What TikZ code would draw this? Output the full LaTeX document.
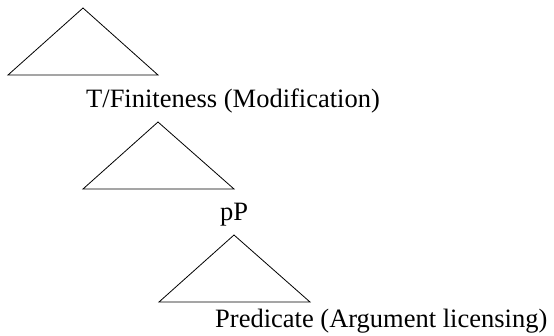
\documentclass[tikz,border=0pt]{standalone}
\usepackage{fontspec}
\setmainfont{Liberation Serif}
\begin{document}
\begin{tikzpicture}[x=1pt,y=-1pt,
  roof/.style={draw=black,line width=0.8pt,line join=miter},
  lbl/.style={anchor=base west,inner sep=0pt,font=\fontsize{26.5}{30}\selectfont}]
\useasboundingbox (0,0) rectangle (554,335);
% triangle 1
\coordinate (a1) at (83,8);
\coordinate (l1) at (8,75);
\coordinate (r1) at (158,75);
\draw[roof] (a1) -- (l1) -- (r1) -- cycle;
\node[lbl] (t1) at (86,107) {T/Finiteness (Modification)};
% triangle 2
\coordinate (a2) at (158,122);
\coordinate (l2) at (83,189);
\coordinate (r2) at (234,189);
\draw[roof] (a2) -- (l2) -- (r2) -- cycle;
\node[lbl] (t2) at (220,220) {pP};
% triangle 3
\coordinate (a3) at (234,235);
\coordinate (l3) at (159,302);
\coordinate (r3) at (310,302);
\draw[roof] (a3) -- (l3) -- (r3) -- cycle;
\node[lbl] (t3) at (215,327) {Predicate (Argument licensing)};
\end{tikzpicture}
\end{document}
